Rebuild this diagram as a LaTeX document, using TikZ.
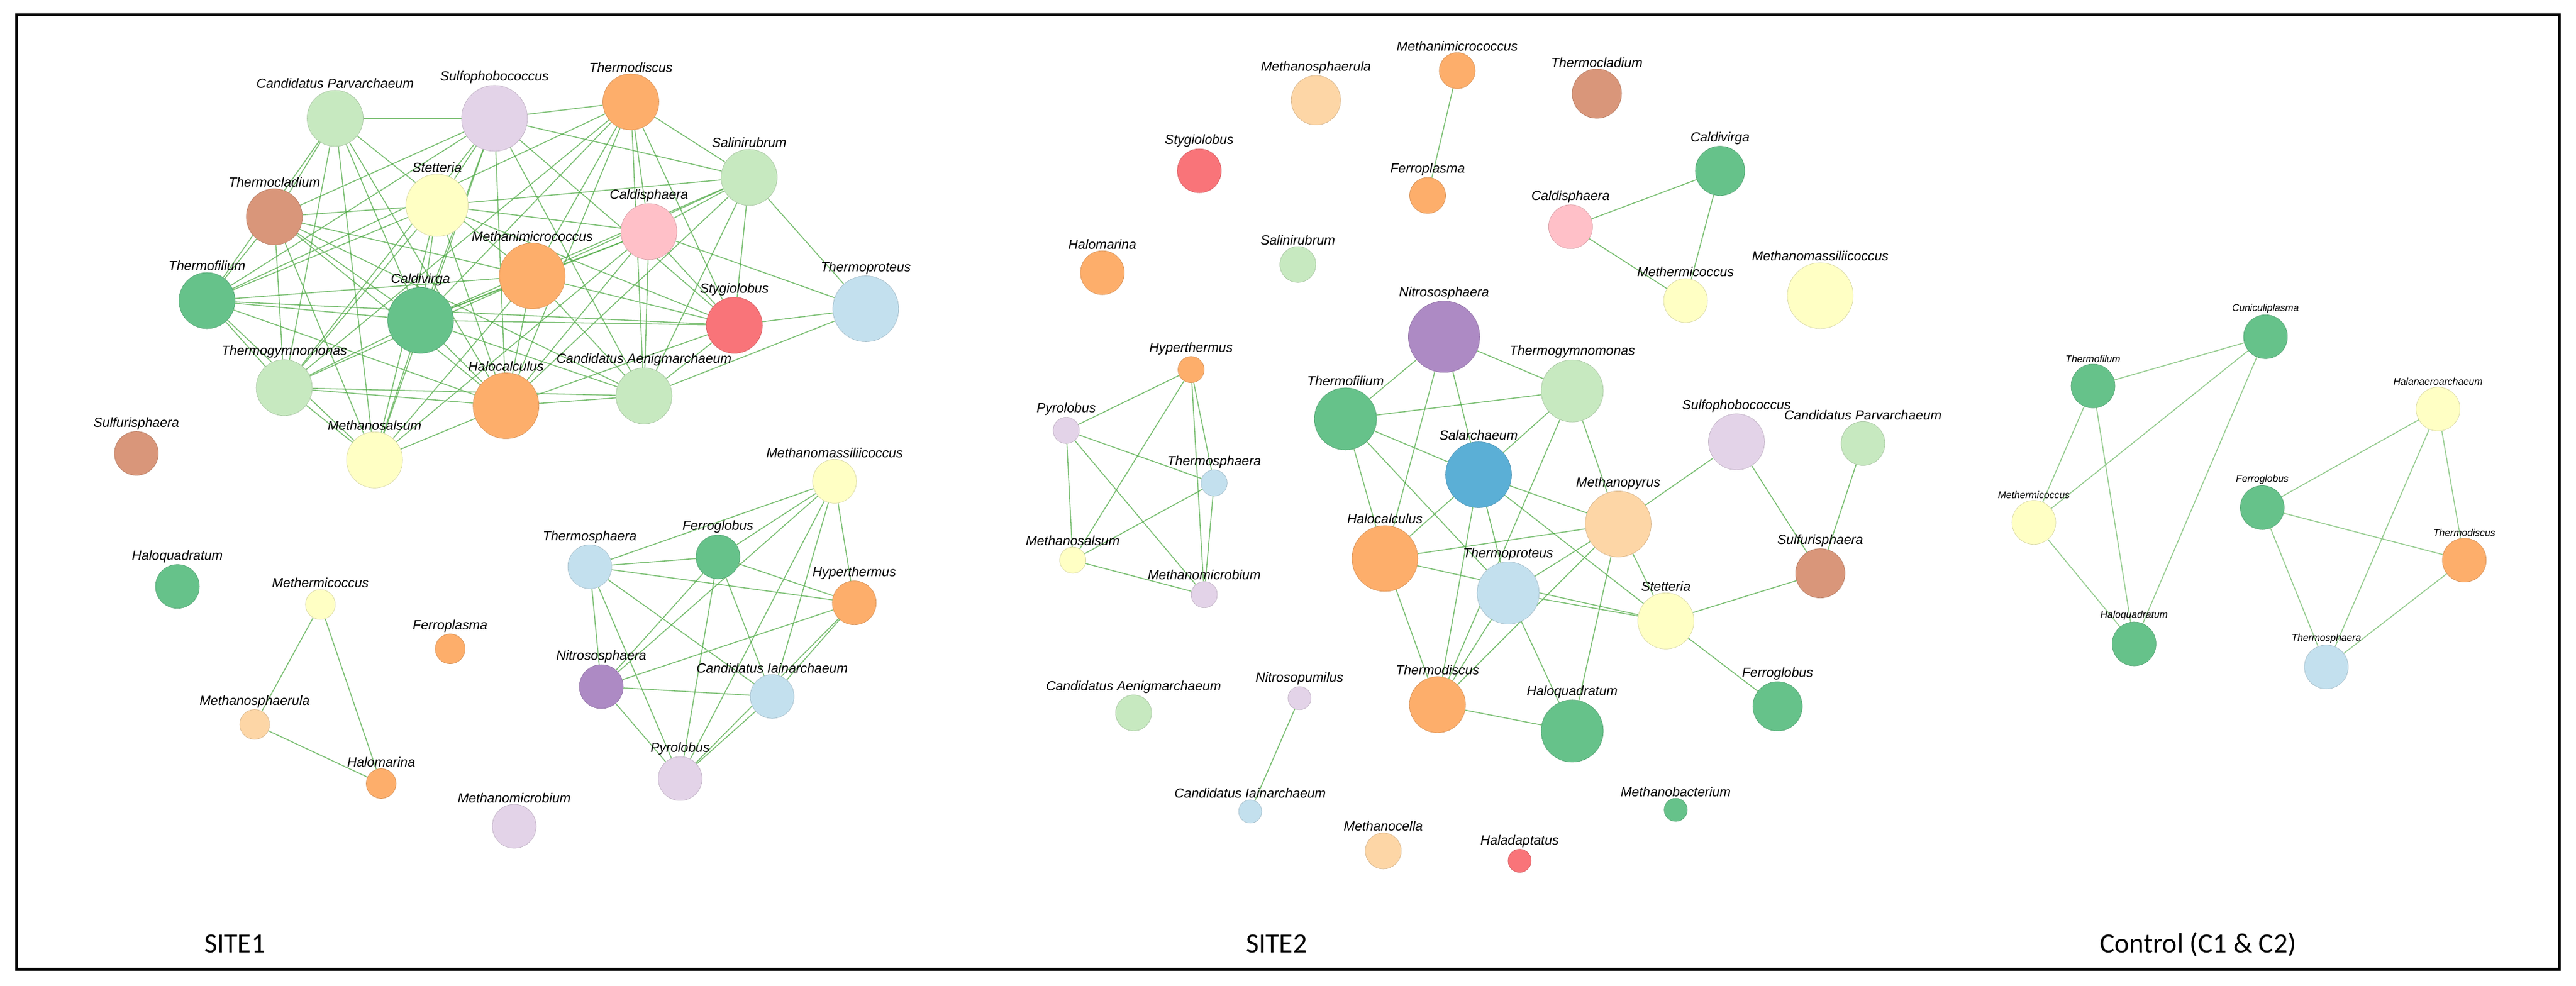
\documentclass[tikz,border=0pt]{standalone}
\usepackage{fontspec}
\setsansfont{Liberation Sans}
\newfontfamily\capfont{Carlito}
\usetikzlibrary{shapes, backgrounds}

\definecolor{lgreen}{RGB}{199,233,192}
\definecolor{mgreen}{RGB}{102,194,138}
\definecolor{lilac}{RGB}{227,211,232}
\definecolor{orng}{RGB}{253,174,107}
\definecolor{pinky}{RGB}{255,192,200}
\definecolor{lyell}{RGB}{255,255,196}
\definecolor{clay}{RGB}{217,150,122}
\definecolor{redd}{RGB}{249,116,121}
\definecolor{lblue}{RGB}{195,224,238}
\definecolor{purp}{RGB}{173,138,196}
\definecolor{peach}{RGB}{253,214,166}
\definecolor{bluu}{RGB}{91,175,214}
\definecolor{edgegreen}{RGB}{80,170,70}

\tikzset{
  tx/.style={circle, inner sep=0pt, fill=#1, draw=#1!85!black, line width=0.2pt},
  lab/.style={font=\sffamily\itshape\fontsize{6.2}{7}\selectfont, inner sep=0.5pt, label distance=0pt},
  clab/.style={font=\sffamily\itshape\fontsize{4.6}{5}\selectfont, inner sep=0.5pt, label distance=0pt},
  s20/.style={minimum size=1.08cm}, s19/.style={minimum size=1.02cm},
  s17/.style={minimum size=0.92cm}, s15/.style={minimum size=0.81cm},
  s13/.style={minimum size=0.72cm}, s11/.style={minimum size=0.59cm},
  s9/.style={minimum size=0.49cm}, s8/.style={minimum size=0.43cm},
  s7/.style={minimum size=0.38cm},
  link/.style={draw=edgegreen, line width=0.45pt, opacity=0.75},
  clink/.style={draw=edgegreen!60, line width=0.45pt}
}

\begin{document}
\begin{tikzpicture}[x=0.02694cm, y=-0.02694cm]
\useasboundingbox (0,0) rectangle (1568,600);
\draw[line width=1.2pt] (10,9) rectangle (1558,590);

% SITE1
\node (a1) at (204, 72)  [tx=lgreen, s17, label={[lab]above:Candidatus Parvarchaeum}] {};
\node (a2) at (301, 72)  [tx=lilac, s20, label={[lab]above:Sulfophobococcus}] {};
\node (a3) at (384, 62)  [tx=orng, s17, label={[lab]above:Thermodiscus}] {};
\node (a4) at (456, 108) [tx=lgreen, s17, label={[lab]above:Salinirubrum}] {};
\node (a5) at (266, 125) [tx=lyell, s19, label={[lab]above:Stetteria}] {};
\node (a6) at (167, 132) [tx=clay, s17, label={[lab]above:Thermocladium}] {};
\node (a7) at (395, 141) [tx=pinky, s17, label={[lab]above:Caldisphaera}] {};
\node (a8) at (324, 168) [tx=orng, s20, label={[lab]above:Methanimicrococcus}] {};
\node (a9) at (126, 183) [tx=mgreen, s17, label={[lab]above:Thermofilium}] {};
\node (a10) at (256, 195) [tx=mgreen, s20, label={[lab]above:Caldivirga}] {};
\node (a11) at (447, 198) [tx=redd, s17, label={[lab]above:Stygiolobus}] {};
\node (a12) at (527, 188) [tx=lblue, s20, label={[lab]above:Thermoproteus}] {};
\node (a13) at (173, 236) [tx=lgreen, s17, label={[lab]above:Thermogymnomonas}] {};
\node (a14) at (308, 247) [tx=orng, s20, label={[lab]above:Halocalculus}] {};
\node (a15) at (392, 241) [tx=lgreen, s17, label={[lab]above:Candidatus Aenigmarchaeum}] {};
\node (a16) at (228, 280) [tx=lyell, s17, label={[lab]above:Methanosalsum}] {};
\node (a17) at (83, 276)  [tx=clay, s13, label={[lab]above:Sulfurisphaera}] {};

\node (b1) at (508, 293) [tx=lyell, s13, label={[lab]above:Methanomassiliicoccus}] {};
\node (b2) at (359, 345) [tx=lblue, s13, label={[lab]above:Thermosphaera}] {};
\node (b3) at (437, 339) [tx=mgreen, s13, label={[lab]above:Ferroglobus}] {};
\node (b4) at (520, 367) [tx=orng, s13, label={[lab]above:Hyperthermus}] {};
\node (b5) at (366, 418) [tx=purp, s13, label={[lab]above:Nitrososphaera}] {};
\node (b6) at (470, 424) [tx=lblue, s13, label={[lab]above:Candidatus Iainarchaeum}] {};
\node (b7) at (414, 474) [tx=lilac, s13, label={[lab]above:Pyrolobus}] {};
\node (b8) at (313, 503) [tx=lilac, s13, label={[lab]above:Methanomicrobium}] {};

\node (c1) at (108, 357) [tx=mgreen, s13, label={[lab]above:Haloquadratum}] {};
\node (c2) at (195, 368) [tx=lyell, s9, label={[lab]above:Methermicoccus}] {};
\node (c3) at (274, 395) [tx=orng, s9, label={[lab]above:Ferroplasma}] {};
\node (c4) at (155, 441) [tx=peach, s9, label={[lab]above:Methanosphaerula}] {};
\node (c5) at (232, 477) [tx=orng, s9, label={[lab]above:Halomarina}] {};

% SITE2
\node (d1) at (887, 43)   [tx=orng, s11, label={[lab]above:Methanimicrococcus}] {};
\node (d2) at (801, 61)   [tx=peach, s15, label={[lab]above:Methanosphaerula}] {};
\node (d3) at (972, 57)   [tx=clay, s15, label={[lab]above:Thermocladium}] {};
\node (d4) at (730, 104)  [tx=redd, s13, label={[lab]above:Stygiolobus}] {};
\node (d5) at (869, 119)  [tx=orng, s11, label={[lab]above:Ferroplasma}] {};
\node (d6) at (1047, 104) [tx=mgreen, s15, label={[lab]above:Caldivirga}] {};
\node (d7) at (956, 138)  [tx=pinky, s13, label={[lab]above:Caldisphaera}] {};
\node (d8) at (671, 166)  [tx=orng, s13, label={[lab]above:Halomarina}] {};
\node (d9) at (790, 161)  [tx=lgreen, s11, label={[lab]above:Salinirubrum}] {};
\node (d10) at (1026, 183) [tx=lyell, s13, label={[lab]above:Methermicoccus}] {};
\node (d11) at (1108, 180) [tx=lyell, s20, label={[lab]above:Methanomassiliicoccus}] {};

\node (e1) at (725, 225) [tx=orng, s8, label={[lab]above:Hyperthermus}] {};
\node (e2) at (649, 262) [tx=lilac, s8, label={[lab]above:Pyrolobus}] {};
\node (e3) at (739, 294) [tx=lblue, s8, label={[lab]above:Thermosphaera}] {};
\node (e4) at (653, 341) [tx=lyell, s8, label={[lab]above:Methanosalsum}] {};
\node (e5) at (733, 362) [tx=lilac, s8, label={[lab]above:Methanomicrobium}] {};

\node (f1) at (879, 205)   [tx=purp, s20, minimum size=1.17cm, label={[lab]above:Nitrososphaera}] {};
\node (f2) at (957, 238)   [tx=lgreen, s19, label={[lab]above:Thermogymnomonas}] {};
\node (f3) at (819, 255)   [tx=mgreen, s19, label={[lab]above:Thermofilium}] {};
\node (f4) at (900, 289)   [tx=bluu, s20, label={[lab]above:Salarchaeum}] {};
\node (f5) at (1057, 269)  [tx=lilac, s17, label={[lab]above:Sulfophobococcus}] {};
\node (f6) at (1134, 270)  [tx=lgreen, s13, label={[lab]above:Candidatus Parvarchaeum}] {};
\node (f7) at (985, 319)   [tx=peach, s20, label={[lab]above:Methanopyrus}] {};
\node (f8) at (843, 340)   [tx=orng, s20, label={[lab]above:Halocalculus}] {};
\node (f9) at (918, 361)   [tx=lblue, s19, label={[lab]above:Thermoproteus}] {};
\node (f10) at (1108, 349) [tx=clay, s15, label={[lab]above:Sulfurisphaera}] {};
\node (f11) at (1014, 378) [tx=lyell, s17, label={[lab]above:Stetteria}] {};
\node (f12) at (875, 429)  [tx=orng, s17, label={[lab]above:Thermodiscus}] {};
\node (f13) at (957, 445)  [tx=mgreen, s19, label={[lab]above:Haloquadratum}] {};
\node (f14) at (1082, 430) [tx=mgreen, s15, label={[lab]above:Ferroglobus}] {};

\node (g1) at (690, 434)  [tx=lgreen, s11, label={[lab]above:Candidatus Aenigmarchaeum}] {};
\node (g2) at (791, 425)  [tx=lilac, s7, label={[lab]above:Nitrosopumilus}] {};
\node (g3) at (761, 494)  [tx=lblue, s7, label={[lab]above:Candidatus Iainarchaeum}] {};
\node (g4) at (1020, 493) [tx=mgreen, s7, label={[lab]above:Methanobacterium}] {};
\node (g5) at (842, 518)  [tx=peach, s11, label={[lab]above:Methanocella}] {};
\node (g6) at (925, 524)  [tx=redd, s7, label={[lab]above:Haladaptatus}] {};

% Control
\node (h1) at (1379, 205) [tx=mgreen, s13, label={[clab]above:Cuniculiplasma}] {};
\node (h2) at (1274, 235) [tx=mgreen, s13, label={[clab]above:Thermofilum}] {};
\node (h3) at (1238, 318) [tx=lyell, s13, label={[clab]above:Methermicoccus}] {};
\node (h4) at (1299, 392) [tx=mgreen, s13, label={[clab]above:Haloquadratum}] {};
\node (h5) at (1484, 249) [tx=lyell, s13, label={[clab]above:Halanaeroarchaeum}] {};
\node (h6) at (1377, 309) [tx=mgreen, s13, label={[clab]above:Ferroglobus}] {};
\node (h7) at (1500, 341) [tx=orng, s13, label={[clab]above:Thermodiscus}] {};
\node (h8) at (1416, 406) [tx=lblue, s13, label={[clab]above:Thermosphaera}] {};

\node (cap1) at (143, 580) [font=\capfont\fontsize{13}{15}\selectfont, anchor=base] {SITE1};
\node (cap2) at (777, 580) [font=\capfont\fontsize{13}{15}\selectfont, anchor=base] {SITE2};
\node (cap3) at (1338, 580) [font=\capfont\fontsize{13}{15}\selectfont, anchor=base] {Control (C1 \& C2)};

\begin{scope}[on background layer]
\path[link] (a1) edge (a2) edge (a6) edge (a9) edge (a13) edge (a16) edge (a10) edge (a14) edge (a8);
\path[link] (a2) edge (a3) edge (a4) edge (a5) edge (a6) edge (a9) edge (a10) edge (a16) edge (a14) edge (a11) edge (a15) edge (a13);
\path[link] (a3) edge (a4) edge (a7) edge (a11) edge (a8) edge (a15) edge (a14) edge (a10) edge (a9) edge (a13);
\path[link] (a4) edge (a5) edge (a7) edge (a8) edge (a10) edge (a11) edge (a15) edge (a14) edge (a12);
\path[link] (a5) edge (a6) edge (a7) edge (a9) edge (a10) edge (a14) edge (a16) edge (a13) edge (a11);
\path[link] (a6) edge (a9) edge (a8) edge (a10) edge (a13) edge (a14) edge (a16) edge (a15);
\path[link] (a7) edge (a10) edge (a8) edge (a11) edge (a15) edge (a14) edge (a12) edge (a16);
\path[link] (a8) edge (a9) edge (a10) edge (a11) edge (a13) edge (a14) edge (a15) edge (a16);
\path[link] (a9) edge (a10) edge (a13) edge (a16) edge (a14) edge (a11);
\path[link] (a10) edge (a11) edge (a13) edge (a14) edge (a16) edge (a15);
\path[link] (a11) edge (a12) edge (a14) edge (a15);
\path[link] (a12) edge (a15);
\path[link] (a13) edge (a14) edge (a16) edge (a15);
\path[link] (a14) edge (a15) edge (a16);

\path[link] (b1) edge (b2) edge (b3) edge (b4) edge (b6) edge (b7) edge (b5);
\path[link] (b2) edge (b3) edge (b4) edge (b5) edge (b7) edge (b6);
\path[link] (b3) edge (b4) edge (b5) edge (b7) edge (b6);
\path[link] (b4) edge (b5) edge (b6) edge (b7);
\path[link] (b5) edge (b6) edge (b7);
\path[link] (b6) edge (b7);

\path[link] (c2) edge (c4) edge (c5);
\path[link] (c4) edge (c5);

\path[link] (d1) edge (d5);
\path[link] (d7) edge (d6) edge (d10);
\path[link] (d6) edge (d10);

\path[link] (e1) edge (e2) edge (e4) edge (e3) edge (e5);
\path[link] (e2) edge (e3) edge (e4) edge (e5);
\path[link] (e3) edge (e4) edge (e5);
\path[link] (e4) edge (e5);

\path[link] (f1) edge (f3) edge (f2) edge (f8) edge (f4);
\path[link] (f3) edge (f2) edge (f4) edge (f8) edge (f9);
\path[link] (f2) edge (f4) edge (f12) edge (f7);
\path[link] (f4) edge (f7) edge (f8) edge (f9) edge (f12) edge (f11);
\path[link] (f5) edge (f7) edge (f10);
\path[link] (f6) edge (f10);
\path[link] (f7) edge (f8) edge (f11) edge (f9) edge (f12) edge (f13);
\path[link] (f8) edge (f11) edge (f12);
\path[link] (f9) edge (f11) edge (f13) edge (f12);
\path[link] (f10) edge (f11);
\path[link] (f11) edge (f14);
\path[link] (f12) edge (f13);
\path[link] (g2) edge (g3);

\path[clink] (h2) edge (h1) edge (h3) edge (h4);
\path[clink] (h1) edge (h3) edge (h4);
\path[clink] (h3) edge (h4);
\path[clink] (h5) edge (h6) edge (h8) edge (h7);
\path[clink] (h6) edge (h7) edge (h8);
\path[clink] (h7) edge (h8);
\end{scope}

\end{tikzpicture}
\end{document}
